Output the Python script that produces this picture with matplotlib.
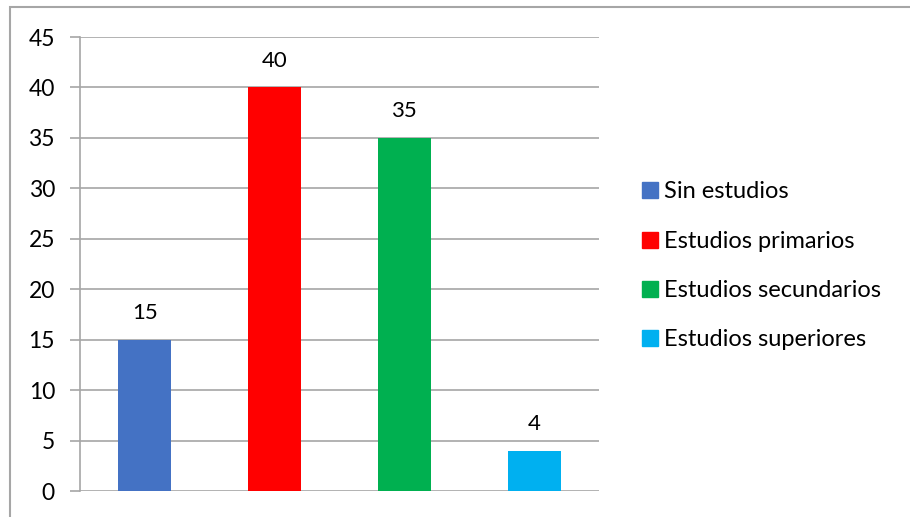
import matplotlib.pyplot as plt
from matplotlib.patches import Patch, Rectangle

# Data
categorias = ["Sin estudios", "Estudios primarios", "Estudios secundarios", "Estudios superiores"]
valores = [15, 40, 35, 4]
colores = ["#4472C4", "#FF0000", "#00B050", "#00B0F0"]
yticks = [0, 5, 10, 15, 20, 25, 30, 35, 40, 45]

plt.rcParams['font.family'] = ['Lato', 'DejaVu Sans']
grid_col = "#a6a6a6"

fig = plt.figure(figsize=(9.1, 5.17), dpi=100)
ax = fig.add_axes([80/910, 1 - 491/517, 519/910, 454/517])

x = range(len(valores))
bars = ax.bar(x, valores, width=0.41, color=colores, zorder=3)
for xi, v in zip(x, valores):
    ax.annotate(str(v), (xi, v), xytext=(0, 12), textcoords="offset points",
                ha="center", va="bottom", fontsize=16, color="black")

ax.set_xlim(-0.5, len(valores) - 0.5)
ax.set_ylim(0, 45)
ax.set_yticks(yticks)
ax.set_xticks([])
ax.tick_params(axis="y", length=7, width=1.2, color=grid_col, labelsize=16.5, pad=11)
ax.yaxis.grid(True, color=grid_col, linewidth=1.2, zorder=0)
for s in ["top", "right", "bottom"]:
    ax.spines[s].set_visible(False)
ax.spines["left"].set_color(grid_col)
ax.spines["left"].set_linewidth(1.2)

handles = [Patch(color=c, label=l) for c, l in zip(colores, categorias)]
fig.legend(handles=handles, loc="center left", bbox_to_anchor=(621/910, 1 - 266/517),
           frameon=False, fontsize=17, handlelength=0.66, handleheight=0.66,
           handletextpad=0.27, labelspacing=1.2)

# outer chart border
fig.patches.append(Rectangle((10/910, -0.05), 1.0, 1 - 7/517 + 0.05,
                             transform=fig.transFigure, fill=False,
                             edgecolor=grid_col, linewidth=1.5))

fig.savefig("out.png", dpi=100)
